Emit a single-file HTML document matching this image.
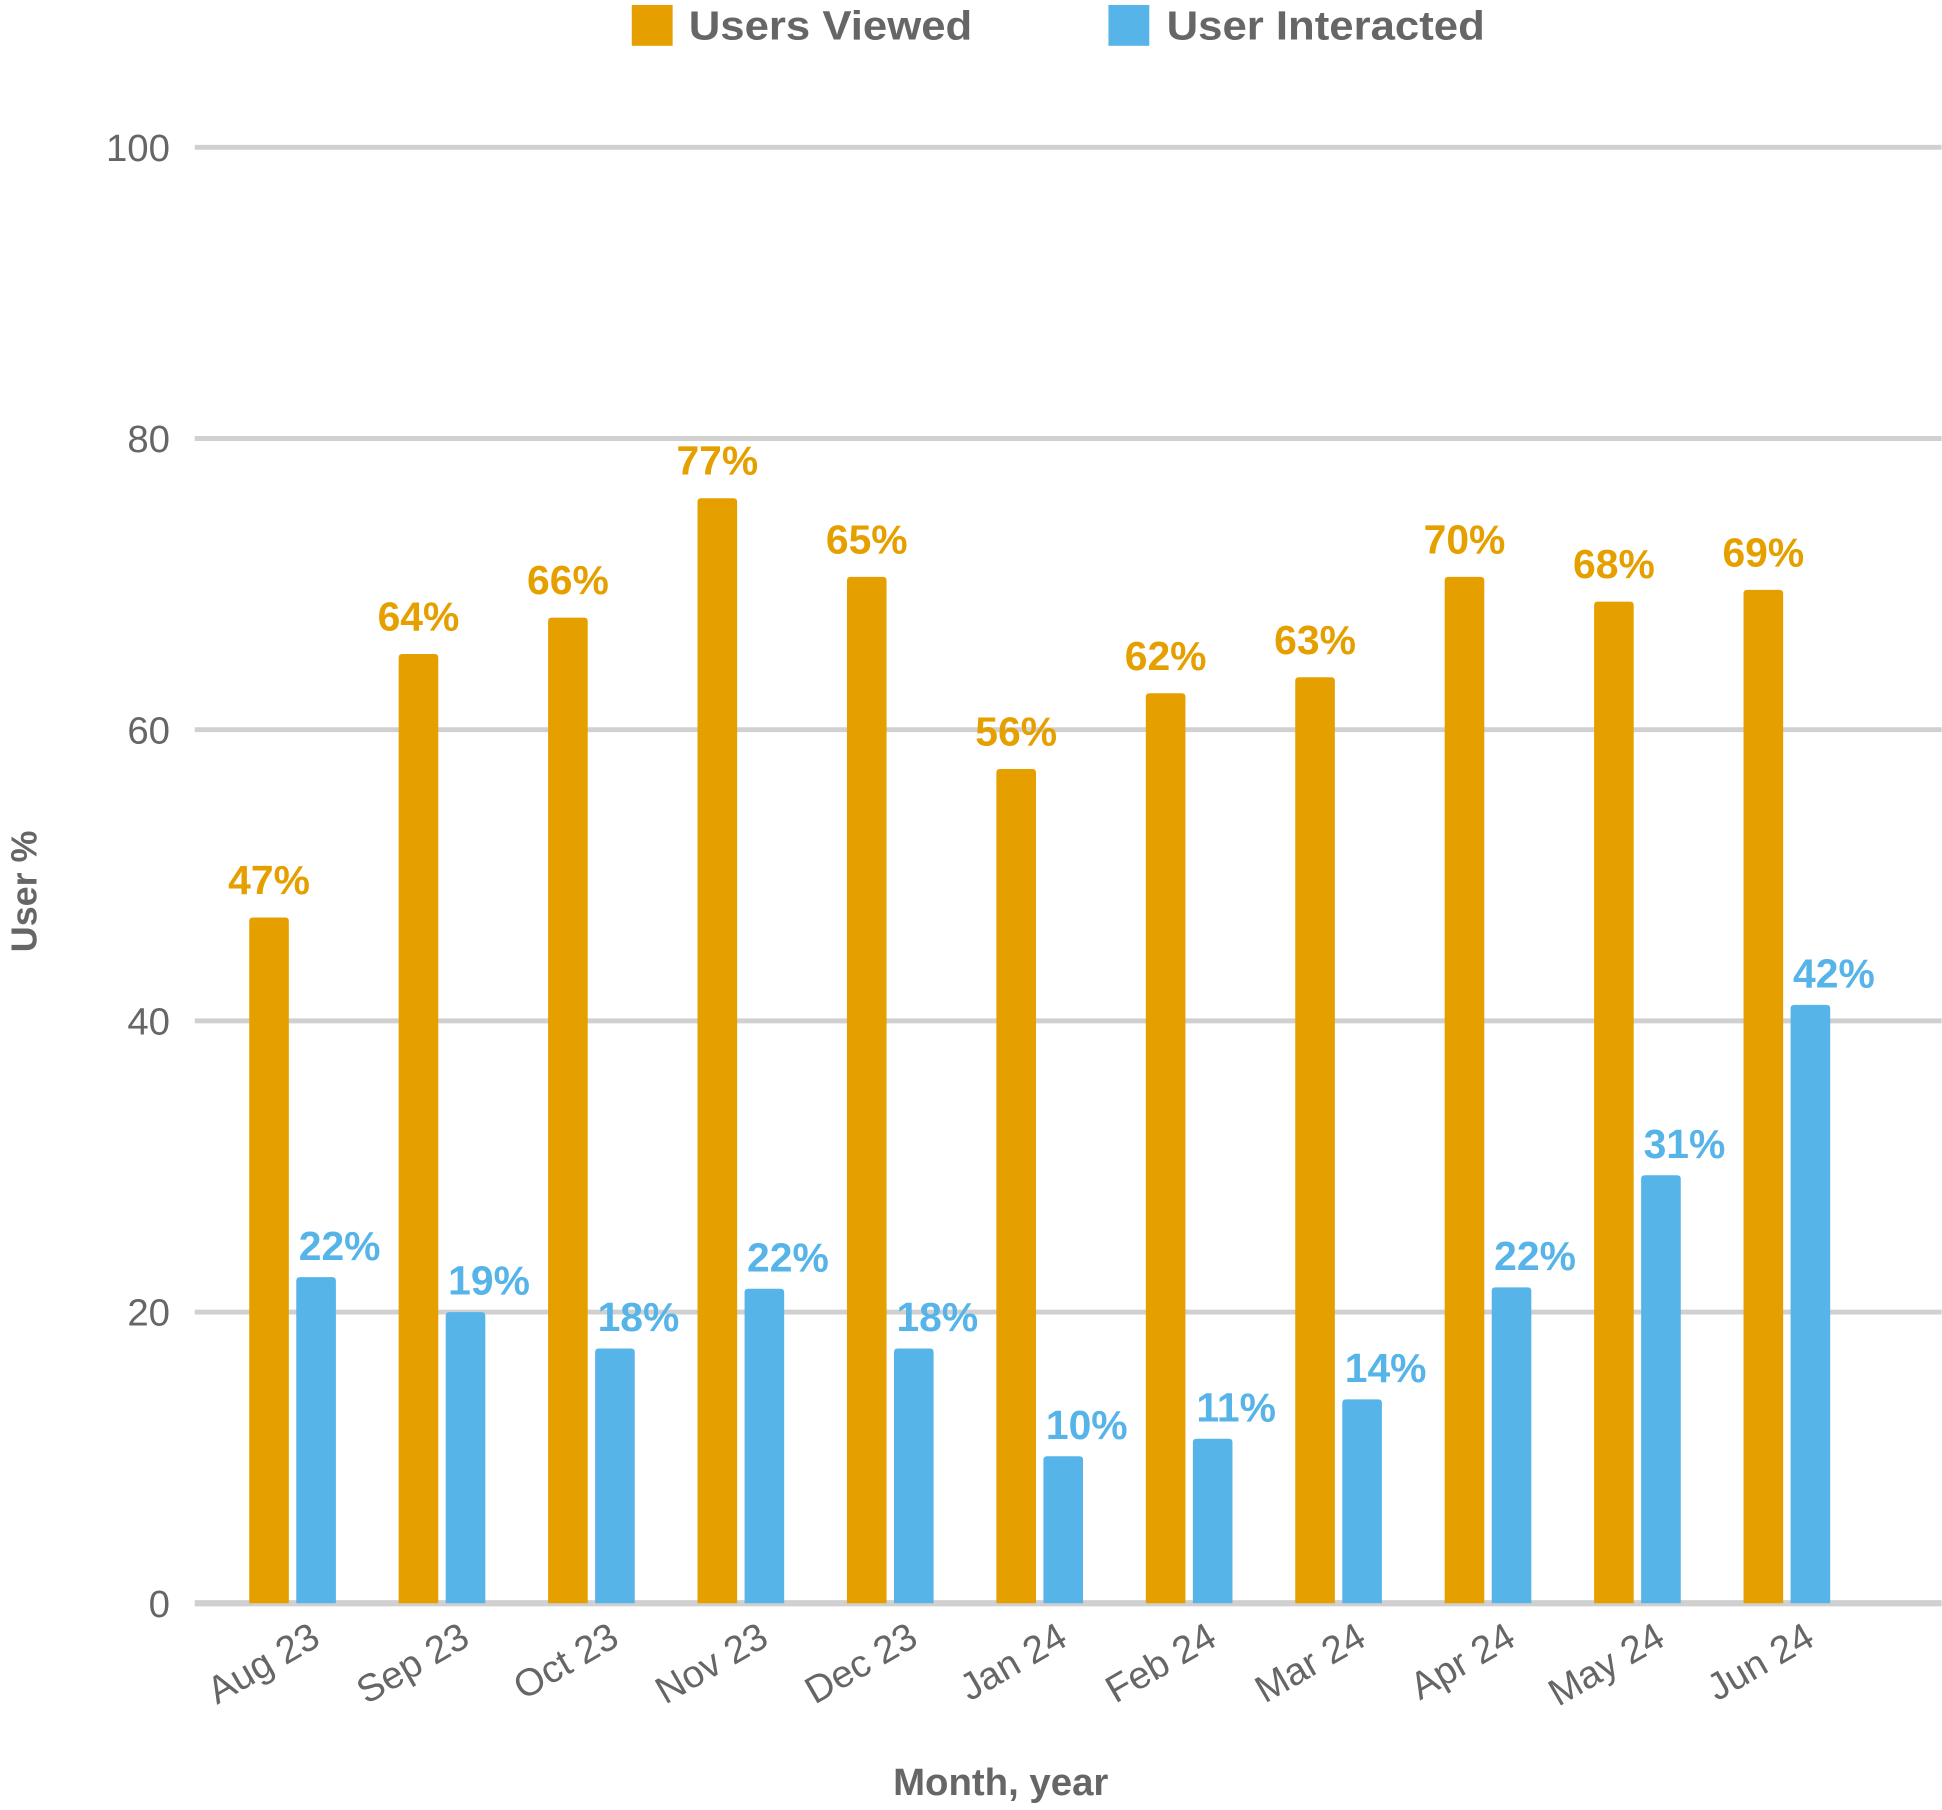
<!DOCTYPE html>
<html><head><meta charset="utf-8">
<style>
html,body{margin:0;padding:0;background:#fff;}
svg{display:block;font-family:"Liberation Sans",Arial,sans-serif;}
</style></head>
<body>
<svg id="chart" width="1942" height="1810" viewBox="0 0 1568 1462" xmlns="http://www.w3.org/2000/svg">
<g id="grid"></g>
<g id="yticks"></g>
<g id="bars"></g>
<g id="labels"></g>
<g id="xticks"></g>
<g>
  <rect x="510" y="4" width="33" height="33" fill="#E5A000"/>
  <text x="556" y="32" font-size="33" font-weight="bold" fill="#666" textLength="229" lengthAdjust="spacingAndGlyphs">Users Viewed</text>
  <rect x="895" y="4" width="33" height="33" fill="#56B4E9"/>
  <text x="942" y="32" font-size="33" font-weight="bold" fill="#666" textLength="257" lengthAdjust="spacingAndGlyphs">User Interacted</text>
</g>
<text transform="translate(29,720) rotate(-90)" text-anchor="middle" font-size="29" font-weight="bold" fill="#666">User %</text>
<text x="808" y="1450" text-anchor="middle" font-size="31" font-weight="bold" fill="#666">Month, year</text>
</svg>
<script>
const categories = ["Aug 23","Sep 23","Oct 23","Nov 23","Dec 23","Jan 24","Feb 24","Mar 24","Apr 24","May 24","Jun 24"];
const viewedValues = [47.1,65.2,67.7,75.9,70.5,57.3,62.5,63.6,70.5,68.8,69.6];
const interactedValues = [22.4,20.0,17.5,21.6,17.5,10.1,11.3,14.0,21.7,29.4,41.1];
const viewedLabels = ["47%","64%","66%","77%","65%","56%","62%","63%","70%","68%","69%"];
const interactedLabels = ["22%","19%","18%","22%","18%","10%","11%","14%","22%","31%","42%"];
const yTicks = [0,20,40,60,80,100];

const NS = "http://www.w3.org/2000/svg";
const y0 = 1295, y100 = 119, left = 157, right = 1568;
function yScale(v){ return y0 - (v/100)*(y0-y100); }
function xCenter(i){ return 236 + i*120.7; }
function mk(tag, attrs, parent){
  const e = document.createElementNS(NS, tag);
  for (const k in attrs) e.setAttribute(k, attrs[k]);
  parent.appendChild(e); return e;
}
const grid = document.getElementById('grid');
const yt = document.getElementById('yticks');
yTicks.forEach(t => {
  const y = yScale(t);
  const l = mk('line', {x1:left, x2:right, y1:y, y2:y, stroke:'#d0d0d0', 'stroke-width': t===0?5:4}, grid);
  
  
  const tx = mk('text', {x:137, y:y+11, 'text-anchor':'end', 'font-size':31, fill:'#666'}, yt);
  tx.textContent = t;
  
  
});
const bars = document.getElementById('bars');
const labels = document.getElementById('labels');
const xt = document.getElementById('xticks');
categories.forEach((c, i) => {
  const cx = xCenter(i);
  const vy = yScale(viewedValues[i]);
  const b1 = mk('path', {d:`M${cx-35},${y0} V${vy+3} Q${cx-35},${vy} ${cx-32},${vy} H${cx-6} Q${cx-3},${vy} ${cx-3},${vy+3} V${y0} Z`, fill:'#E5A000'}, bars);
  
  
  const iy = yScale(interactedValues[i]);
  const b2 = mk('path', {d:`M${cx+3},${y0} V${iy+3} Q${cx+3},${iy} ${cx+6},${iy} H${cx+32} Q${cx+35},${iy} ${cx+35},${iy+3} V${y0} Z`, fill:'#56B4E9'}, bars);
  
  
  const l1 = mk('text', {x:cx-19, y:vy-19, 'text-anchor':'middle', 'font-size':33, 'font-weight':'bold', fill:'#E5A000'}, labels);
  l1.textContent = viewedLabels[i];
  
  
  const l2 = mk('text', {x:cx+38, y:iy-14, 'text-anchor':'middle', 'font-size':33, 'font-weight':'bold', fill:'#56B4E9'}, labels);
  l2.textContent = interactedLabels[i];
  
  
  const xl = mk('text', {transform:`translate(${cx+24},${1328}) rotate(-30)`, 'text-anchor':'end', 'font-size':31, fill:'#666'}, xt);
  xl.textContent = c;
  
  
});
</script>
</body></html>
